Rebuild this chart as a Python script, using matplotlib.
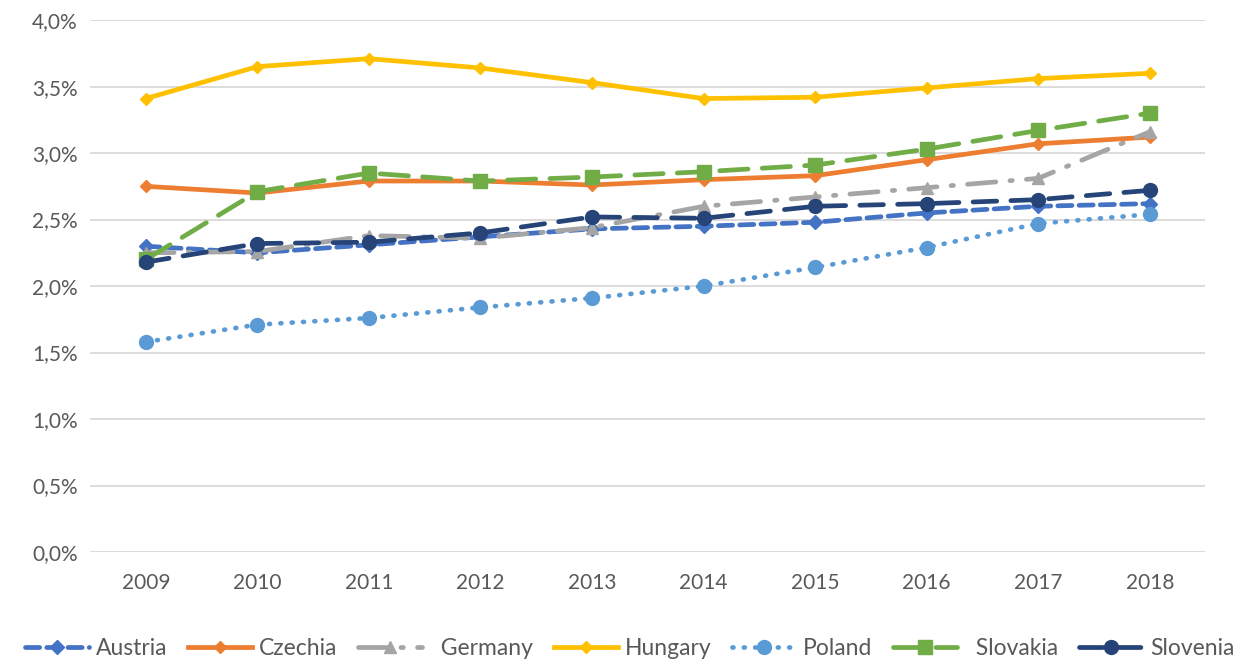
import matplotlib.pyplot as plt
from matplotlib.ticker import FuncFormatter

years = [2009, 2010, 2011, 2012, 2013, 2014, 2015, 2016, 2017, 2018]

austria = [2.30, 2.25, 2.31, 2.37, 2.43, 2.45, 2.48, 2.55, 2.60, 2.62]
czechia = [2.75, 2.70, 2.79, 2.79, 2.76, 2.80, 2.83, 2.95, 3.07, 3.12]
germany = [2.25, 2.26, 2.38, 2.36, 2.44, 2.60, 2.67, 2.74, 2.81, 3.16]
hungary = [3.41, 3.65, 3.71, 3.64, 3.53, 3.41, 3.42, 3.49, 3.56, 3.60]
poland = [1.58, 1.71, 1.76, 1.84, 1.91, 2.00, 2.14, 2.29, 2.47, 2.54]
slovakia = [2.20, 2.71, 2.85, 2.79, 2.82, 2.86, 2.91, 3.03, 3.17, 3.30]
slovenia = [2.18, 2.32, 2.33, 2.40, 2.52, 2.51, 2.60, 2.62, 2.65, 2.72]

plt.rcParams['font.family'] = ['Lato', 'DejaVu Sans']

fig = plt.figure(figsize=(12.59, 6.70), dpi=100)
ax = fig.add_axes([0.0715, 0.176, 0.886, 0.794])

lw = 3.4
ax.plot(years, austria, color='#4472C4', lw=lw, ls=(0, (3, 1.5)), marker='D', ms=7,
        label='Austria', dash_capstyle='round')
ax.plot(years, czechia, color='#ED7D31', lw=lw, ls='-', marker='D', ms=6,
        label='Czechia')
ax.plot(years, germany, color='#A5A5A5', lw=lw, ls=(0, (6, 3, 0.5, 3)), marker='^', ms=9,
        label='  Germany', dash_capstyle='round')
ax.plot(years, hungary, color='#FFC000', lw=lw, ls='-', marker='D', ms=6,
        label='Hungary')
ax.plot(years, poland, color='#5B9BD5', lw=lw, ls=(0, (0.2, 2.2)), marker='o', ms=10,
        label='Poland', dash_capstyle='round')
ax.plot(years, slovakia, color='#70AD47', lw=lw, ls=(0, (6, 3)), marker='s', ms=10,
        label='  Slovakia', dash_capstyle='round')
ax.plot(years, slovenia, color='#264478', lw=lw, ls=(0, (5, 3)), marker='o', ms=10,
        label='Slovenia', dash_capstyle='round')

ax.set_xlim(2008.5, 2018.5)
ax.set_ylim(0, 4.0)
ax.set_yticks([0, 0.5, 1.0, 1.5, 2.0, 2.5, 3.0, 3.5, 4.0])
ax.yaxis.set_major_formatter(FuncFormatter(lambda v, p: f'{v:.1f}%'.replace('.', ',')))
ax.set_xticks(years)
ax.grid(axis='y', color='#D9D9D9', lw=1.3)
ax.set_axisbelow(True)
for s in ax.spines.values():
    s.set_visible(False)
ax.tick_params(length=0, labelsize=15, colors='#595959', pad=9)
ax.tick_params(axis='x', pad=15)

fig.legend(loc='lower center', ncol=7, frameon=False, fontsize=16.5,
           bbox_to_anchor=(0.5, -0.015), handlelength=2.8, columnspacing=0.9,
           handletextpad=0.3, labelcolor='#595959')

fig.savefig('out.png', dpi=100)
